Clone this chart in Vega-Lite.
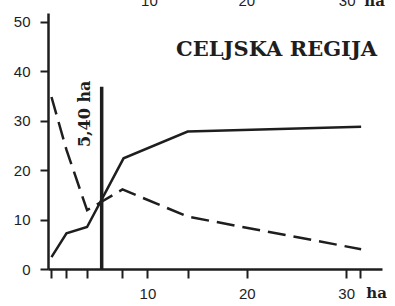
{
  "$schema": "https://vega.github.io/schema/vega-lite/v6.json",
  "width": 334,
  "height": 256,
  "autosize": {"type": "none"},
  "padding": {"left": 48, "top": 13, "right": 13, "bottom": 37},
  "background": "white",
  "config": {"view": {"stroke": null}},
  "encoding": {
    "x": {
      "field": "x", "type": "quantitative",
      "scale": {"domain": [0, 33.6], "nice": false, "zero": false},
      "axis": {
        "title": null, "grid": false,
        "values": [0.35, 1.86, 3.93, 7.49, 10, 14.05, 20, 30, 31.4],
        "labelExpr": "datum.value == 10 ? '10' : datum.value == 20 ? '20' : datum.value == 30 ? '30' : ''",
        "domainColor": "#1e1e1e", "domainWidth": 2.5,
        "tickColor": "#1e1e1e", "tickWidth": 2, "tickSize": 9,
        "labelFont": "Liberation Sans", "labelFontSize": 15, "labelColor": "#1e1e1e",
        "labelBaseline": "middle", "labelPadding": 15, "labelFlush": false, "labelOverlap": false
      }
    },
    "y": {
      "field": "y", "type": "quantitative",
      "scale": {"domain": [0, 51.8], "nice": false, "zero": false},
      "axis": {
        "title": null, "grid": false,
        "values": [0, 10, 20, 30, 40, 50],
        "domainColor": "#1e1e1e", "domainWidth": 2.5,
        "tickColor": "#1e1e1e", "tickWidth": 2, "tickSize": 8,
        "labelFont": "Liberation Sans", "labelFontSize": 15, "labelColor": "#1e1e1e",
        "labelPadding": 10, "labelFlush": false
      }
    }
  },
  "layer": [
    {
      "data": {"values": [
        {"x": 0.35, "y": 2.4},
        {"x": 1.86, "y": 7.2},
        {"x": 3.93, "y": 8.5},
        {"x": 7.6, "y": 22.4},
        {"x": 14.05, "y": 27.8},
        {"x": 31.5, "y": 28.8}
      ]},
      "mark": {"type": "line", "color": "#1e1e1e", "strokeWidth": 2.5}
    },
    {
      "data": {"values": [
        {"x": 0.35, "y": 34.8},
        {"x": 1.86, "y": 24.1},
        {"x": 3.93, "y": 11.9},
        {"x": 7.49, "y": 16.1},
        {"x": 14.05, "y": 10.6},
        {"x": 31.5, "y": 4.0}
      ]},
      "mark": {"type": "line", "color": "#1e1e1e", "strokeWidth": 2.5, "strokeDash": [18, 8]}
    },
    {
      "data": {"values": [{"x": 5.4, "y": 0, "y2": 36.9}]},
      "mark": {"type": "rule", "color": "#1e1e1e", "strokeWidth": 3.5},
      "encoding": {"y2": {"field": "y2"}}
    },
    {
      "data": {"values": [{"x": 3.72, "y": 31.4, "t": "5,40 ha"}]},
      "mark": {"type": "text", "angle": 270, "align": "center", "baseline": "middle", "font": "DejaVu Serif", "fontWeight": "bold", "fontSize": 16, "color": "#1e1e1e"},
      "encoding": {"text": {"field": "t"}}
    },
    {
      "data": {"values": [{"x": 23.0, "y": 44.3, "t": "CELJSKA REGIJA"}]},
      "mark": {"type": "text", "align": "center", "baseline": "middle", "font": "DejaVu Serif", "fontWeight": "bold", "fontSize": 21, "color": "#1e1e1e"},
      "encoding": {"text": {"field": "t"}}
    },
    {
      "data": {"values": [{"x": 33.05, "y": -4.86, "t": "ha"}]},
      "mark": {"type": "text", "align": "center", "baseline": "middle", "font": "DejaVu Serif", "fontWeight": "bold", "fontSize": 15, "color": "#1e1e1e"},
      "encoding": {"text": {"field": "t"}}
    },
    {
      "data": {"values": [
        {"x": 10.2, "y": 53.2, "t": "10"},
        {"x": 20.0, "y": 53.2, "t": "20"},
        {"x": 30.1, "y": 53.2, "t": "30"}
      ]},
      "mark": {"type": "text", "align": "center", "baseline": "alphabetic", "font": "Liberation Sans", "fontSize": 15, "color": "#1e1e1e"},
      "encoding": {"text": {"field": "t"}}
    },
    {
      "data": {"values": [{"x": 32.85, "y": 53.2, "t": "ha"}]},
      "mark": {"type": "text", "align": "center", "baseline": "alphabetic", "font": "DejaVu Serif", "fontWeight": "bold", "fontSize": 15, "color": "#1e1e1e"},
      "encoding": {"text": {"field": "t"}}
    }
  ]
}
